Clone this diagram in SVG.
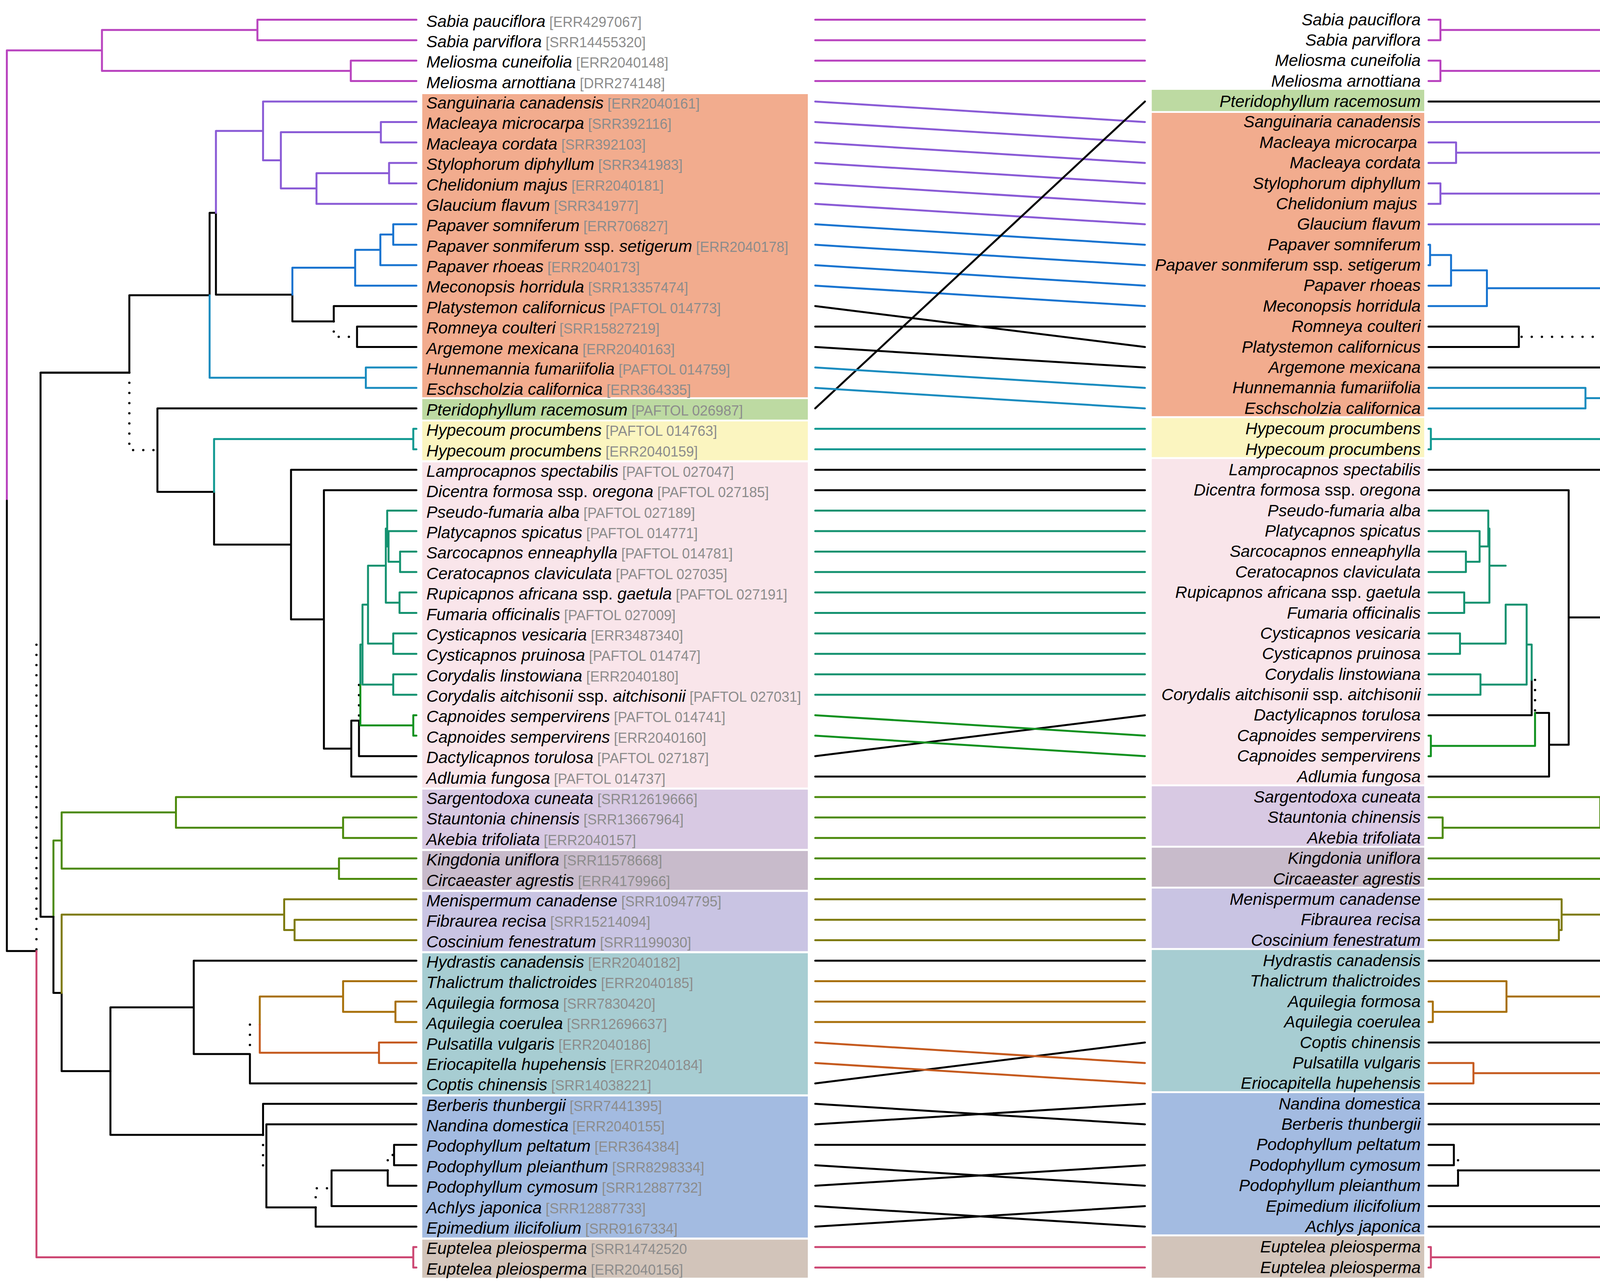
<svg xmlns="http://www.w3.org/2000/svg" width="4724" height="3293" viewBox="0 0 4724 3293">
<style>
.t{fill:none;stroke-width:5;stroke-linecap:round;stroke-linejoin:round}
.d{fill:none;stroke:#000;stroke-width:6;stroke-linecap:round;stroke-dasharray:0 26}
.k{stroke:#000}.m{stroke:#B944BF}.p{stroke:#8A5BD6}.b{stroke:#1874D0}.tb{stroke:#1A8CBF}.te{stroke:#0E9890}.tg{stroke:#149270}.g{stroke:#10911F}.lg{stroke:#4C8A0C}.ol{stroke:#7E7A0F}.oc{stroke:#A8700A}.or{stroke:#C55A1E}.pk{stroke:#CC4672}
text{font-family:"Liberation Sans",Arial,sans-serif;font-size:42.5px;font-style:italic;fill:#000}
.a{font-size:36px;font-style:normal;fill:#8C8C8C}
.u{font-style:normal}
.R{text-anchor:end}
</style>
<rect width="4724" height="3293" fill="#fff"/>
<g id="bands-left">
<rect x="1081" y="241" width="987" height="776.3" fill="#F2AC8E"/>
<rect x="1081" y="1022" width="987" height="52.5" fill="#BDDAA2"/>
<rect x="1081" y="1079.1" width="987" height="99.4" fill="#FBF5C0"/>
<rect x="1081" y="1183.9" width="987" height="832.7" fill="#F9E5EA"/>
<rect x="1081" y="2021.9" width="987" height="151.8" fill="#D8C9E3"/>
<rect x="1081" y="2179.1" width="987" height="99.4" fill="#C8BBCB"/>
<rect x="1081" y="2283.8" width="987" height="151.8" fill="#C9C4E3"/>
<rect x="1081" y="2441" width="987" height="361.3" fill="#A7CDD2"/>
<rect x="1081" y="2807.6" width="987" height="361.3" fill="#A3BBE1"/>
<rect x="1081" y="3174.3" width="987" height="97.4" fill="#D2C4BA"/>
</g>
<g id="bands-right">
<rect x="2948.5" y="230" width="697.5" height="54.5" fill="#BDDAA2"/>
<rect x="2948.5" y="289" width="697.5" height="776.7" fill="#F2AC8E"/>
<rect x="2948.5" y="1070.6" width="697.5" height="99.9" fill="#FBF5C0"/>
<rect x="2948.5" y="1175.4" width="697.5" height="833.2" fill="#F9E5EA"/>
<rect x="2948.5" y="2013.4" width="697.5" height="152.3" fill="#D8C9E3"/>
<rect x="2948.5" y="2170.6" width="697.5" height="99.9" fill="#C8BBCB"/>
<rect x="2948.5" y="2275.3" width="697.5" height="152.3" fill="#C9C4E3"/>
<rect x="2948.5" y="2432.5" width="697.5" height="361.8" fill="#A7CDD2"/>
<rect x="2948.5" y="2799.1" width="697.5" height="361.8" fill="#A3BBE1"/>
<rect x="2948.5" y="3165.8" width="697.5" height="105.9" fill="#D2C4BA"/>
</g>
<g id="left-tree">
<path class="t m" d="M1066 50.5H659V102.9H1066M1066 155.3H898V207.6H1066M659 76.7H261V181.5H898M261 129.1H17.5V1282"/>
<path class="t k" d="M17.5 1282V2435.2H93.3"/>
<path class="d" d="M93.3 1650.9V2435.2"/>
<path class="t pk" d="M93.3 2435.2V3219.5H1058M1066 3193.3H1058V3245.7H1066"/>
<path class="t k" d="M331.1 954.3H103.8V2347.4H136.8"/>
<path class="t lg" d="M136.8 2347.4V2152.3H157.8M450.4 2080.2H157.8V2224.3H867.8M1066 2040.9H450.4V2119.5H878.3M1066 2093.3H878.3V2145.7H1066M1066 2198.1H867.8V2250.5H1066"/>
<path class="t k" d="M136.8 2347.4V2542.5H157.8V2742.8H282.7"/>
<path class="t ol" d="M157.8 2542.5V2342.1H727.5M1066 2302.8H727.5V2381.4H754.1M1066 2355.2H754.1V2407.6H1066"/>
<path class="t k" d="M496 2579.5H282.7V2906H673.4M1066 2460H496V2699H639.8V2774.3H1066"/>
<path class="d" d="M639.8 2623.7V2699"/>
<path class="t oc" d="M665 2623.7V2551.7H878.3M1066 2512.4H878.3V2590.9H1012.3M1066 2564.7H1012.3V2617.1H1066"/>
<path class="t or" d="M665 2623.7V2695.7H970.2M1066 2669.5H970.2V2721.9H1066"/>
<path class="t k" d="M1066 2826.6H673.4V2906M1066 2879H681.9V3091.8H808.1V3140.9H1066M1066 3088.5H848.8V2996.9H992.6V3036.2H1066M1066 2931.4H1008.8V2983.8H1066"/>
<path class="d" d="M673.4 2906V2985.4H681.9M808.1 3091.8V3042.7H848.8M992.6 2996.9V2957.6H1008.8"/>
<path class="t k" d="M103.8 954.3H331.1V756H536.6V544.9H552.8V754.4H748.5V823.1H854.4V783.8H1066M1066 836.2H914V888.6H1066"/>
<path class="d" d="M854.4 823.1V862.4H914M331.1 954.3V1152.6H403"/>
<path class="t k" d="M1066 1045.7H403V1259.4H548V1394.5H745M1066 1202.9H745V1586.1H829.2M1066 1255.2H829.2V1916.9H899.3M1066 1988.6H899.3V1845.2H919V1936.2H1066"/>
<path class="d" d="M919 1754.1V1845.2"/>
<path class="t p" d="M552.8 544.9V335.3H673.4M1066 260H673.4V410.6H719M1066 312.4H975V364.8H1066M975 338.6H719V482.6H810.2M1066 417.2H996V469.5H1066M996 443.4H810.2V521.9H1066"/>
<path class="t b" d="M748.5 754.4V685.6H909.2M1066 731.4H909.2V639.8H973.7M1066 679.1H973.7V600.5H1006.7M1066 574.3H1006.7V626.7H1066"/>
<path class="t tb" d="M536.6 756V967.2H936.5M1066 941H936.5V993.3H1066"/>
<path class="t te" d="M548 1259.4V1124.3H1058M1066 1098.1H1058V1150.5H1066"/>
<path class="t tg" d="M928 1650.6H922.5V1754.1M1006.7 1752.9H928V1548.3H942.1M1066 1726.7H1006.7V1779H1066M1006.7 1648.1H942.1V1448.4H987.7M1066 1621.9H1006.7V1674.3H1066M1022.8 1543.3H987.7V1353.5H991.2M1066 1517.1H1022.8V1569.5H1066M1066 1307.6H991.2V1399.3H994.7M1066 1360H994.7V1438.6H1024.2M1066 1412.4H1024.2V1464.8H1066"/>
<path class="t g" d="M922.5 1754.1V1857.6H1058M1066 1831.4H1058V1883.8H1066"/>
</g>
<g id="right-tree">
<path class="t m" d="M3657 50.5H3687.5V102.9H3657M3687.5 76.7H4367V181.5H3687.5M3657 155.3H3687.5V207.6H3657M4367 129.1H4705.4V989"/>
<path class="t k" d="M4705.4 989V1842H4628.7V897H4530.5V1258.2H4453V1392H4101.8"/>
<path class="d" d="M4628.7 1842V2787M4467.4 535.9H4530.5V897"/>
<path class="t k" d="M3657 260H4467.4V811.7H4246.6V603.8H4230.8V819.9H4144.8V901.7H4116V941H3657M3657 836.2H3888.2V888.6H3657"/>
<path class="d" d="M4116 901.7V862.4H3888.2"/>
<path class="t p" d="M4230.8 603.8V387.7H4167.7M3657 312.4H4167.7V463H4128.3M4128.3 391V535H4110.4M3657 364.8H3727.6V417.2H3657M3727.6 391H4128.3M3657 469.5H3687.5V521.9H3657M3687.5 495.7H4110.4V574.3H3657"/>
<path class="t b" d="M4144.8 819.9V738H3806.5M3657 783.8H3806.5V692.2H3714.7M3657 731.4H3714.7V652.9H3661M3657 626.7H3661V679.1H3657"/>
<path class="t tb" d="M4246.6 811.7V1019.5H4058.8M3657 993.3H4058.8V1045.7H3657"/>
<path class="t te" d="M4453 1258.2V1124.3H3663M3657 1098.1H3663V1150.5H3657"/>
<path class="t k" d="M3657 1202.9H4101.8V1581.1H4015.8M3657 1255.2H4015.8V1907H3965.6M3657 1988.6H3965.6V1825.5H3929.7M3657 1831.4H3921.1V1741"/>
<path class="d" d="M3929.7 1741V1825.5"/>
<path class="t g" d="M3929.7 1825.5V1910H3663M3657 1883.8H3663V1936.2H3657"/>
<path class="t tg" d="M3921.1 1741V1650.6H3908.2M3908.2 1548.3V1752.9H3790M3657 1726.7H3790V1779H3657M3908.2 1548.3H3854.5V1648.1H3737.6M3657 1621.9H3737.6V1674.3H3657M3854.5 1448.4H3812.9V1353.5H3810M3812.9 1448.4V1543.3H3748.4M3657 1517.1H3748.4V1569.5H3657M3657 1307.6H3810V1399.3H3787.8M3657 1360H3787.8V1438.6H3752.7M3657 1412.4H3752.7V1464.8H3657"/>
<path class="t lg" d="M4587.8 2354.5V2152.3H4566.3M4566.3 2080.2V2224.3H4345.5M4566.3 2080.2H4096.8M3657 2040.9H4096.8V2119.5H3693.2M3657 2093.3H3693.2V2145.7H3657M3657 2198.1H4345.5V2250.5H3657"/>
<path class="t k" d="M4619.4 2354.5H4587.8V2556.6H4543.4V2771H4478.9M4619.4 2354.5V2787"/>
<path class="t pk" d="M4619.4 2787V3219.5H3663M3657 3193.3H3663V3245.7H3657"/>
<path class="t ol" d="M4543.4 2556.6V2342.1H3997.8M3657 2302.8H3997.8V2381.4H3990.7M3657 2355.2H3990.7V2407.6H3657"/>
<path class="t k" d="M4478.9 2569.7V2972.3H4308.2M4478.9 2569.7H4297.5M3657 2460H4297.5V2679.4H4198.6M3657 2669.5H4173.5V2610.6"/>
<path class="t or" d="M4198.6 2679.4V2748.1H3772M3657 2721.9H3772V2774.3H3657"/>
<path class="d" d="M4198.6 2679.4V2610.6"/>
<path class="t oc" d="M4173.5 2610.6V2551.7H3856.6M3657 2512.4H3856.6V2590.9H3668M3657 2564.7H3668V2617.1H3657"/>
<path class="t k" d="M4308.2 2972.3V3091.8H4234.4V3140.9H3657M3657 2826.6H4220V2879H3657M3657 3088.5H4205.7V2996.9H3732.6V3036.2H3657M3657 2931.4H3721.9V2983.8H3657"/>
<path class="d" d="M4308.2 2972.3V2852.8H4220M4234.4 3091.8V3042.7H4205.7M3732.6 2996.9V2957.6H3721.9"/>
</g>
<g id="connectors" class="t">
<path class="m" d="M2087 50.5L2931 50.5M2087 102.9L2931 102.9M2087 155.3L2931 155.3M2087 207.6L2931 207.6"/>
<path class="p" d="M2087 260L2931 312.4M2087 312.4L2931 364.8M2087 364.8L2931 417.2M2087 417.2L2931 469.5M2087 469.5L2931 521.9M2087 521.9L2931 574.3"/>
<path class="b" d="M2087 574.3L2931 626.7M2087 626.7L2931 679.1M2087 679.1L2931 731.4M2087 731.4L2931 783.8"/>
<path class="k" d="M2087 783.8L2931 888.6M2087 836.2L2931 836.2M2087 888.6L2931 941M2087 1045.7L2931 260M2087 1202.9L2931 1202.9M2087 1255.2L2931 1255.2M2087 1936.2L2931 1831.4M2087 1988.6L2931 1988.6M2087 2460L2931 2460M2087 2774.3L2931 2669.5M2087 2826.6L2931 2879M2087 2879L2931 2826.6M2087 2931.4L2931 2931.4M2087 2983.8L2931 3036.2M2087 3036.2L2931 2983.8M2087 3088.5L2931 3140.9M2087 3140.9L2931 3088.5"/>
<path class="tb" d="M2087 941L2931 993.3M2087 993.3L2931 1045.7"/>
<path class="te" d="M2087 1098.1L2931 1098.1M2087 1150.5L2931 1150.5"/>
<path class="tg" d="M2087 1307.6L2931 1307.6M2087 1360L2931 1360M2087 1412.4L2931 1412.4M2087 1464.8L2931 1464.8M2087 1517.1L2931 1517.1M2087 1569.5L2931 1569.5M2087 1621.9L2931 1621.9M2087 1674.3L2931 1674.3M2087 1726.7L2931 1726.7M2087 1779L2931 1779"/>
<path class="g" d="M2087 1831.4L2931 1883.8M2087 1883.8L2931 1936.2"/>
<path class="lg" d="M2087 2040.9L2931 2040.9M2087 2093.3L2931 2093.3M2087 2145.7L2931 2145.7M2087 2198.1L2931 2198.1M2087 2250.5L2931 2250.5"/>
<path class="ol" d="M2087 2302.8L2931 2302.8M2087 2355.2L2931 2355.2M2087 2407.6L2931 2407.6"/>
<path class="oc" d="M2087 2512.4L2931 2512.4M2087 2564.7L2931 2564.7M2087 2617.1L2931 2617.1"/>
<path class="or" d="M2087 2669.5L2931 2721.9M2087 2721.9L2931 2774.3"/>
<path class="pk" d="M2087 3193.3L2931 3193.3M2087 3245.7L2931 3245.7"/>
</g>
<g id="labels-left">
<g id="L01"><text x="1091.5" y="68.5">Sabia pauciflora<tspan class="a"> [ERR4297067]</tspan></text></g>
<g id="L02"><text x="1091.5" y="120.9">Sabia parviflora<tspan class="a"> [SRR14455320]</tspan></text></g>
<g id="L03"><text x="1091.5" y="173.3">Meliosma cuneifolia<tspan class="a"> [ERR2040148]</tspan></text></g>
<g id="L04"><text x="1091.5" y="225.6">Meliosma arnottiana<tspan class="a"> [DRR274148]</tspan></text></g>
<g id="L05"><text x="1091.5" y="278">Sanguinaria canadensis<tspan class="a"> [ERR2040161]</tspan></text></g>
<g id="L06"><text x="1091.5" y="330.4">Macleaya microcarpa<tspan class="a"> [SRR392116]</tspan></text></g>
<g id="L07"><text x="1091.5" y="382.8">Macleaya cordata<tspan class="a"> [SRR392103]</tspan></text></g>
<g id="L08"><text x="1091.5" y="435.2">Stylophorum diphyllum<tspan class="a"> [SRR341983]</tspan></text></g>
<g id="L09"><text x="1091.5" y="487.5">Chelidonium majus<tspan class="a"> [ERR2040181]</tspan></text></g>
<g id="L10"><text x="1091.5" y="539.9">Glaucium flavum<tspan class="a"> [SRR341977]</tspan></text></g>
<g id="L11"><text x="1091.5" y="592.3">Papaver somniferum<tspan class="a"> [ERR706827]</tspan></text></g>
<g id="L12"><text x="1091.5" y="644.7">Papaver sonmiferum <tspan class="u">ssp.</tspan> setigerum<tspan class="a"> [ERR2040178]</tspan></text></g>
<g id="L13"><text x="1091.5" y="697.1">Papaver rhoeas<tspan class="a"> [ERR2040173]</tspan></text></g>
<g id="L14"><text x="1091.5" y="749.4">Meconopsis horridula<tspan class="a"> [SRR13357474]</tspan></text></g>
<g id="L15"><text x="1091.5" y="801.8">Platystemon californicus<tspan class="a"> [PAFTOL 014773]</tspan></text></g>
<g id="L16"><text x="1091.5" y="854.2">Romneya coulteri<tspan class="a"> [SRR15827219]</tspan></text></g>
<g id="L17"><text x="1091.5" y="906.6">Argemone mexicana<tspan class="a"> [ERR2040163]</tspan></text></g>
<g id="L18"><text x="1091.5" y="959">Hunnemannia fumariifolia<tspan class="a"> [PAFTOL 014759]</tspan></text></g>
<g id="L19"><text x="1091.5" y="1011.3">Eschscholzia californica<tspan class="a"> [ERR364335]</tspan></text></g>
<g id="L20"><text x="1091.5" y="1063.7">Pteridophyllum racemosum<tspan class="a"> [PAFTOL 026987]</tspan></text></g>
<g id="L21"><text x="1091.5" y="1116.1">Hypecoum procumbens<tspan class="a"> [PAFTOL 014763]</tspan></text></g>
<g id="L22"><text x="1091.5" y="1168.5">Hypecoum procumbens<tspan class="a"> [ERR2040159]</tspan></text></g>
<g id="L23"><text x="1091.5" y="1220.9">Lamprocapnos spectabilis<tspan class="a"> [PAFTOL 027047]</tspan></text></g>
<g id="L24"><text x="1091.5" y="1273.2">Dicentra formosa <tspan class="u">ssp.</tspan> oregona<tspan class="a"> [PAFTOL 027185]</tspan></text></g>
<g id="L25"><text x="1091.5" y="1325.6">Pseudo-fumaria alba<tspan class="a"> [PAFTOL 027189]</tspan></text></g>
<g id="L26"><text x="1091.5" y="1378">Platycapnos spicatus<tspan class="a"> [PAFTOL 014771]</tspan></text></g>
<g id="L27"><text x="1091.5" y="1430.4">Sarcocapnos enneaphylla<tspan class="a"> [PAFTOL 014781]</tspan></text></g>
<g id="L28"><text x="1091.5" y="1482.8">Ceratocapnos claviculata<tspan class="a"> [PAFTOL 027035]</tspan></text></g>
<g id="L29"><text x="1091.5" y="1535.1">Rupicapnos africana <tspan class="u">ssp.</tspan> gaetula<tspan class="a"> [PAFTOL 027191]</tspan></text></g>
<g id="L30"><text x="1091.5" y="1587.5">Fumaria officinalis<tspan class="a"> [PAFTOL 027009]</tspan></text></g>
<g id="L31"><text x="1091.5" y="1639.9">Cysticapnos vesicaria<tspan class="a"> [ERR3487340]</tspan></text></g>
<g id="L32"><text x="1091.5" y="1692.3">Cysticapnos pruinosa<tspan class="a"> [PAFTOL 014747]</tspan></text></g>
<g id="L33"><text x="1091.5" y="1744.7">Corydalis linstowiana<tspan class="a"> [ERR2040180]</tspan></text></g>
<g id="L34"><text x="1091.5" y="1797">Corydalis aitchisonii <tspan class="u">ssp.</tspan> aitchisonii<tspan class="a"> [PAFTOL 027031]</tspan></text></g>
<g id="L35"><text x="1091.5" y="1849.4">Capnoides sempervirens<tspan class="a"> [PAFTOL 014741]</tspan></text></g>
<g id="L36"><text x="1091.5" y="1901.8">Capnoides sempervirens<tspan class="a"> [ERR2040160]</tspan></text></g>
<g id="L37"><text x="1091.5" y="1954.2">Dactylicapnos torulosa<tspan class="a"> [PAFTOL 027187]</tspan></text></g>
<g id="L38"><text x="1091.5" y="2006.6">Adlumia fungosa<tspan class="a"> [PAFTOL 014737]</tspan></text></g>
<g id="L39"><text x="1091.5" y="2058.9">Sargentodoxa cuneata<tspan class="a"> [SRR12619666]</tspan></text></g>
<g id="L40"><text x="1091.5" y="2111.3">Stauntonia chinensis<tspan class="a"> [SRR13667964]</tspan></text></g>
<g id="L41"><text x="1091.5" y="2163.7">Akebia trifoliata<tspan class="a"> [ERR2040157]</tspan></text></g>
<g id="L42"><text x="1091.5" y="2216.1">Kingdonia uniflora<tspan class="a"> [SRR11578668]</tspan></text></g>
<g id="L43"><text x="1091.5" y="2268.5">Circaeaster agrestis<tspan class="a"> [ERR4179966]</tspan></text></g>
<g id="L44"><text x="1091.5" y="2320.8">Menispermum canadense<tspan class="a"> [SRR10947795]</tspan></text></g>
<g id="L45"><text x="1091.5" y="2373.2">Fibraurea recisa<tspan class="a"> [SRR15214094]</tspan></text></g>
<g id="L46"><text x="1091.5" y="2425.6">Coscinium fenestratum<tspan class="a"> [SRR1199030]</tspan></text></g>
<g id="L47"><text x="1091.5" y="2478">Hydrastis canadensis<tspan class="a"> [ERR2040182]</tspan></text></g>
<g id="L48"><text x="1091.5" y="2530.4">Thalictrum thalictroides<tspan class="a"> [ERR2040185]</tspan></text></g>
<g id="L49"><text x="1091.5" y="2582.7">Aquilegia formosa<tspan class="a"> [SRR7830420]</tspan></text></g>
<g id="L50"><text x="1091.5" y="2635.1">Aquilegia coerulea<tspan class="a"> [SRR12696637]</tspan></text></g>
<g id="L51"><text x="1091.5" y="2687.5">Pulsatilla vulgaris<tspan class="a"> [ERR2040186]</tspan></text></g>
<g id="L52"><text x="1091.5" y="2739.9">Eriocapitella hupehensis<tspan class="a"> [ERR2040184]</tspan></text></g>
<g id="L53"><text x="1091.5" y="2792.3">Coptis chinensis<tspan class="a"> [SRR14038221]</tspan></text></g>
<g id="L54"><text x="1091.5" y="2844.6">Berberis thunbergii<tspan class="a"> [SRR7441395]</tspan></text></g>
<g id="L55"><text x="1091.5" y="2897">Nandina domestica<tspan class="a"> [ERR2040155]</tspan></text></g>
<g id="L56"><text x="1091.5" y="2949.4">Podophyllum peltatum<tspan class="a"> [ERR364384]</tspan></text></g>
<g id="L57"><text x="1091.5" y="3001.8">Podophyllum pleianthum<tspan class="a"> [SRR8298334]</tspan></text></g>
<g id="L58"><text x="1091.5" y="3054.2">Podophyllum cymosum<tspan class="a"> [SRR12887732]</tspan></text></g>
<g id="L59"><text x="1091.5" y="3106.5">Achlys japonica<tspan class="a"> [SRR12887733]</tspan></text></g>
<g id="L60"><text x="1091.5" y="3158.9">Epimedium ilicifolium<tspan class="a"> [SRR9167334]</tspan></text></g>
<g id="L61"><text x="1091.5" y="3211.3">Euptelea pleiosperma<tspan class="a"> [SRR14742520</tspan></text></g>
<g id="L62"><text x="1091.5" y="3263.7">Euptelea pleiosperma<tspan class="a"> [ERR2040156]</tspan></text></g>
</g>
<g id="labels-right">
<g id="R01"><text class="R" x="3637" y="64.5">Sabia pauciflora</text></g>
<g id="R02"><text class="R" x="3637" y="116.9">Sabia parviflora</text></g>
<g id="R03"><text class="R" x="3637" y="169.3">Meliosma cuneifolia</text></g>
<g id="R04"><text class="R" x="3637" y="221.6">Meliosma arnottiana</text></g>
<g id="R05"><text class="R" x="3637" y="274">Pteridophyllum racemosum</text></g>
<g id="R06"><text class="R" x="3637" y="326.4">Sanguinaria canadensis</text></g>
<g id="R07"><text class="R" x="3628" y="378.8">Macleaya microcarpa</text></g>
<g id="R08"><text class="R" x="3637" y="431.2">Macleaya cordata</text></g>
<g id="R09"><text class="R" x="3637" y="483.5">Stylophorum diphyllum</text></g>
<g id="R10"><text class="R" x="3628" y="535.9">Chelidonium majus</text></g>
<g id="R11"><text class="R" x="3637" y="588.3">Glaucium flavum</text></g>
<g id="R12"><text class="R" x="3637" y="640.7">Papaver somniferum</text></g>
<g id="R13"><text class="R" x="3637" y="693.1">Papaver sonmiferum <tspan class="u">ssp.</tspan> setigerum</text></g>
<g id="R14"><text class="R" x="3637" y="745.4">Papaver rhoeas</text></g>
<g id="R15"><text class="R" x="3637" y="797.8">Meconopsis horridula</text></g>
<g id="R16"><text class="R" x="3637" y="850.2">Romneya coulteri</text></g>
<g id="R17"><text class="R" x="3637" y="902.6">Platystemon californicus</text></g>
<g id="R18"><text class="R" x="3637" y="955">Argemone mexicana</text></g>
<g id="R19"><text class="R" x="3637" y="1007.3">Hunnemannia fumariifolia</text></g>
<g id="R20"><text class="R" x="3637" y="1059.7">Eschscholzia californica</text></g>
<g id="R21"><text class="R" x="3637" y="1112.1">Hypecoum procumbens</text></g>
<g id="R22"><text class="R" x="3637" y="1164.5">Hypecoum procumbens</text></g>
<g id="R23"><text class="R" x="3637" y="1216.9">Lamprocapnos spectabilis</text></g>
<g id="R24"><text class="R" x="3637" y="1269.2">Dicentra formosa <tspan class="u">ssp.</tspan> oregona</text></g>
<g id="R25"><text class="R" x="3637" y="1321.6">Pseudo-fumaria alba</text></g>
<g id="R26"><text class="R" x="3637" y="1374">Platycapnos spicatus</text></g>
<g id="R27"><text class="R" x="3637" y="1426.4">Sarcocapnos enneaphylla</text></g>
<g id="R28"><text class="R" x="3637" y="1478.8">Ceratocapnos claviculata</text></g>
<g id="R29"><text class="R" x="3637" y="1531.1">Rupicapnos africana <tspan class="u">ssp.</tspan> gaetula</text></g>
<g id="R30"><text class="R" x="3637" y="1583.5">Fumaria officinalis</text></g>
<g id="R31"><text class="R" x="3637" y="1635.9">Cysticapnos vesicaria</text></g>
<g id="R32"><text class="R" x="3637" y="1688.3">Cysticapnos pruinosa</text></g>
<g id="R33"><text class="R" x="3637" y="1740.7">Corydalis linstowiana</text></g>
<g id="R34"><text class="R" x="3637" y="1793">Corydalis aitchisonii <tspan class="u">ssp.</tspan> aitchisonii</text></g>
<g id="R35"><text class="R" x="3637" y="1845.4">Dactylicapnos torulosa</text></g>
<g id="R36"><text class="R" x="3637" y="1897.8">Capnoides sempervirens</text></g>
<g id="R37"><text class="R" x="3637" y="1950.2">Capnoides sempervirens</text></g>
<g id="R38"><text class="R" x="3637" y="2002.6">Adlumia fungosa</text></g>
<g id="R39"><text class="R" x="3637" y="2054.9">Sargentodoxa cuneata</text></g>
<g id="R40"><text class="R" x="3637" y="2107.3">Stauntonia chinensis</text></g>
<g id="R41"><text class="R" x="3637" y="2159.7">Akebia trifoliata</text></g>
<g id="R42"><text class="R" x="3637" y="2212.1">Kingdonia uniflora</text></g>
<g id="R43"><text class="R" x="3637" y="2264.5">Circaeaster agrestis</text></g>
<g id="R44"><text class="R" x="3637" y="2316.8">Menispermum canadense</text></g>
<g id="R45"><text class="R" x="3637" y="2369.2">Fibraurea recisa</text></g>
<g id="R46"><text class="R" x="3637" y="2421.6">Coscinium fenestratum</text></g>
<g id="R47"><text class="R" x="3637" y="2474">Hydrastis canadensis</text></g>
<g id="R48"><text class="R" x="3637" y="2526.4">Thalictrum thalictroides</text></g>
<g id="R49"><text class="R" x="3637" y="2578.7">Aquilegia formosa</text></g>
<g id="R50"><text class="R" x="3637" y="2631.1">Aquilegia coerulea</text></g>
<g id="R51"><text class="R" x="3637" y="2683.5">Coptis chinensis</text></g>
<g id="R52"><text class="R" x="3637" y="2735.9">Pulsatilla vulgaris</text></g>
<g id="R53"><text class="R" x="3637" y="2788.3">Eriocapitella hupehensis</text></g>
<g id="R54"><text class="R" x="3637" y="2840.6">Nandina domestica</text></g>
<g id="R55"><text class="R" x="3637" y="2893">Berberis thunbergii</text></g>
<g id="R56"><text class="R" x="3637" y="2945.4">Podophyllum peltatum</text></g>
<g id="R57"><text class="R" x="3637" y="2997.8">Podophyllum cymosum</text></g>
<g id="R58"><text class="R" x="3637" y="3050.2">Podophyllum pleianthum</text></g>
<g id="R59"><text class="R" x="3637" y="3102.5">Epimedium ilicifolium</text></g>
<g id="R60"><text class="R" x="3637" y="3154.9">Achlys japonica</text></g>
<g id="R61"><text class="R" x="3637" y="3207.3">Euptelea pleiosperma</text></g>
<g id="R62"><text class="R" x="3637" y="3259.7">Euptelea pleiosperma</text></g>
</g>
</svg>
